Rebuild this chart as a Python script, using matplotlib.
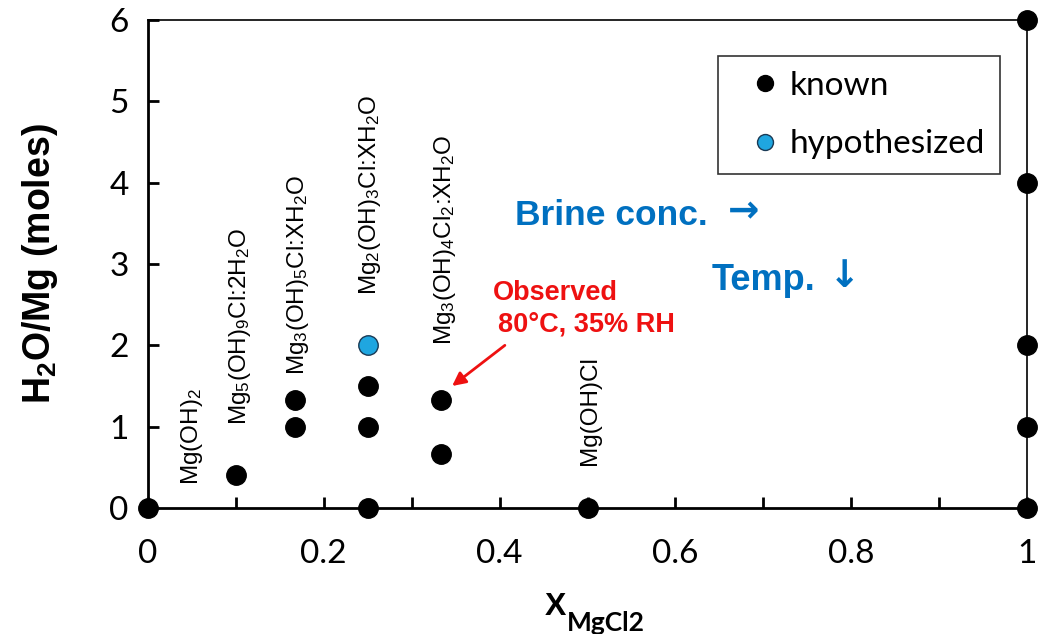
import matplotlib
matplotlib.use("Agg")
import matplotlib.pyplot as plt
from matplotlib.ticker import MultipleLocator

plt.rcParams['mathtext.fontset'] = 'custom'
plt.rcParams['mathtext.rm'] = 'Liberation Sans'
plt.rcParams['mathtext.it'] = 'Liberation Sans:italic'
plt.rcParams['mathtext.bf'] = 'Liberation Sans:bold'

# data
known_x = [0, 0.1, 1/6, 1/6, 0.25, 0.25, 0.25, 1/3, 1/3, 0.5, 1, 1, 1, 1, 1]
known_y = [0, 0.4, 1.0, 1.333, 0, 1.0, 1.5, 0.667, 1.333, 0, 0, 1, 2, 4, 6]
hyp_x = [0.25]
hyp_y = [2.0]

labels = [r'Mg(OH)$_2$', r'Mg$_5$(OH)$_9$Cl:2H$_2$O', r'Mg$_3$(OH)$_5$Cl:XH$_2$O',
          r'Mg$_2$(OH)$_3$Cl:XH$_2$O', r'Mg$_3$(OH)$_4$Cl$_2$:XH$_2$O', r'Mg(OH)Cl']
label_x = [0.05, 0.105, 0.171, 0.253, 0.338, 0.503]
label_y = [0.28, 1.02, 1.64, 2.62, 2.0, 0.53]

xticks = [0, 0.2, 0.4, 0.6, 0.8, 1]
xticklabels = ['0', '0.2', '0.4', '0.6', '0.8', '1']
yticks = [0, 1, 2, 3, 4, 5, 6]

fig = plt.figure(figsize=(10.42, 6.34), dpi=100)
ax = fig.add_axes([148/1042, 1-508/634, 879/1042, 488/634])
ax.set_xlim(0, 1)
ax.set_ylim(0, 6)

ax.plot(known_x, known_y, 'o', color='black', markersize=14, clip_on=False,
        zorder=5, label='known')
ax.plot(hyp_x, hyp_y, 'o', color='#1fa6e0', markeredgecolor='#1a3a55',
        markeredgewidth=1, markersize=14, clip_on=False, zorder=5, label='hypothesized')

for t, x, y in zip(labels, label_x, label_y):
    ax.text(x, y, t, rotation=90, ha='center', va='bottom', fontsize=17.5,
            family='Liberation Sans', color='black')

for s in ['left', 'bottom']:
    ax.spines[s].set_linewidth(2)
for s in ['top', 'right']:
    ax.spines[s].set_linewidth(1.2)

ax.set_xticks(xticks)
ax.set_xticklabels(xticklabels)
ax.xaxis.set_minor_locator(MultipleLocator(0.1))
ax.set_yticks(yticks)
ax.tick_params(axis='x', which='both', direction='in', length=8, width=2,
               pad=22, labelsize=24, top=False)
ax.tick_params(axis='y', which='both', direction='in', length=8, width=2,
               pad=14, labelsize=24, right=False)
for lab in ax.get_xticklabels() + ax.get_yticklabels():
    lab.set_family('Lato')

ax.set_ylabel(r'H$_\mathbf{2}$O/Mg (moles)', fontsize=27, fontweight='bold',
              family='Liberation Sans', labelpad=35)

# x-axis title: X with subscript MgCl2
fig.text(545/1042, 1-615/634, 'X', fontsize=23, fontweight='bold',
         family='Liberation Sans', ha='left', va='baseline')
fig.text(567/1042, 1-631/634, 'MgCl2', fontsize=19, fontweight='bold',
         family='Lato', ha='left', va='baseline')

leg = ax.legend(loc='upper right', bbox_to_anchor=((1000-148)/879, (508-56)/488),
                frameon=True, fancybox=False, handletextpad=-0.2,
                borderpad=0.45, labelspacing=0.85, handlelength=1.9,
                markerscale=0.82, prop={'family': 'Lato', 'size': 24},
                borderaxespad=0)
leg.get_frame().set_edgecolor('black')
leg.get_frame().set_linewidth(1.2)

ax.text(0.4175, 3.48, 'Brine conc.', fontsize=25.5, fontweight='bold',
        color='#0070c0', family='Liberation Sans', va='baseline', ha='left')
ax.text(0.660, 3.64, '→', fontsize=27, fontweight='bold',
        color='#0070c0', family='DejaVu Sans', va='center', ha='left')
ax.text(0.6416, 2.68, 'Temp.', fontsize=26, fontweight='bold',
        color='#0070c0', family='Liberation Sans', va='baseline', ha='left')
ax.text(0.792, 2.84, '↓', fontsize=27, fontweight='bold',
        color='#0070c0', family='DejaVu Sans', va='center', ha='center')
ax.text(0.3925, 2.557, 'Observed', fontsize=19.5, fontweight='bold',
        color='#ee1111', family='Liberation Sans', va='baseline', ha='left')
ax.text(0.398, 2.164, '80°C, 35% RH', fontsize=19.5, fontweight='bold',
        color='#ee1111', family='Liberation Sans', va='baseline', ha='left')
ax.annotate('', xy=(0.346, 1.5), xytext=(0.406, 2.0),
            arrowprops=dict(arrowstyle='-|>', color='#ee1111', lw=2,
                            mutation_scale=20, shrinkA=0, shrinkB=0))

fig.savefig('out.png', dpi=100)
